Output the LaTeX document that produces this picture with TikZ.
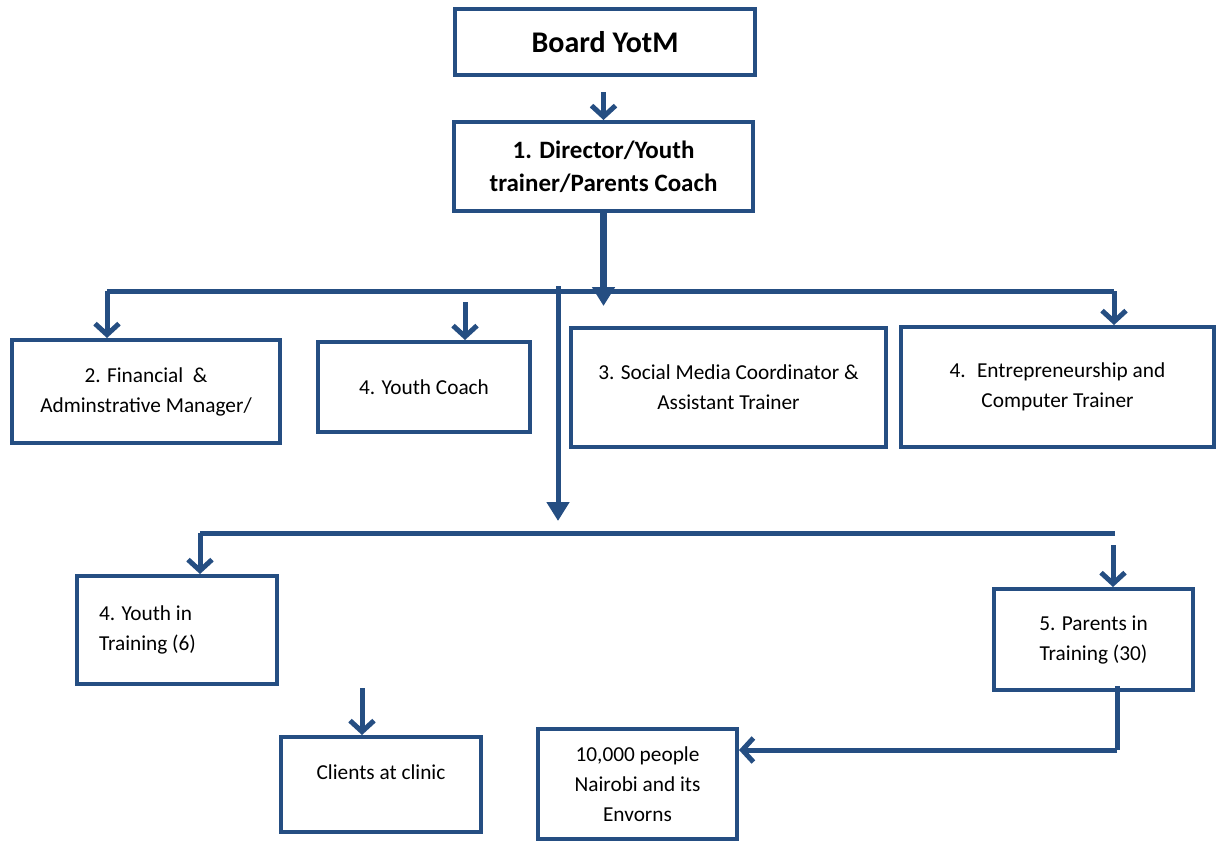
\documentclass[tikz,border=0pt]{standalone}
\usepackage{fontspec}
\setmainfont{Carlito}
\usetikzlibrary{arrows.meta}
\definecolor{ybox}{RGB}{37,78,130}
\tikzset{
  orgbox/.style={draw=ybox, line width=4pt, rectangle, inner sep=0pt, align=center,
    font=\fontsize{21.3}{30}\selectfont},
  conn/.style={draw=ybox, line width=5pt},
  barb/.style={conn, -{Straight Barb[length=11pt,width=24pt]}},
  tri/.style={conn, -{Triangle[length=19pt,width=22pt]}}
}
\begin{document}
\begin{tikzpicture}[x=1pt, y=-1pt]
\useasboundingbox (0,0) rectangle (1217,841);
\node[orgbox, minimum width=300, minimum height=66, font=\fontsize{30}{33}\selectfont\bfseries] (board) at (605,42) {Board YotM};
\node[orgbox, minimum width=299, minimum height=89, font=\fontsize{25}{33}\selectfont\bfseries] (director) at (603.5,166.5) {1. Director/Youth\\trainer/Parents Coach};
\node[orgbox, minimum width=268, minimum height=103] (fin) at (146,391.5) {2. Financial \ \&\\Adminstrative Manager/};
\node[orgbox, minimum width=212, minimum height=90] (ycoach) at (424,387) {4. Youth Coach};
\node[orgbox, minimum width=315, minimum height=119] (social) at (728.5,387.5) {3. Social Media Coordinator \&\\Assistant Trainer};
\node[orgbox, minimum width=313, minimum height=120] (entre) at (1057.5,387) {4. \ Entrepreneurship and\\Computer Trainer};
\node[orgbox, minimum width=200, minimum height=108, align=flush left, text width=156] (ytrain) at (177,630) {4. Youth in\\Training (6)};
\node[orgbox, minimum width=199, minimum height=101] (parents) at (1093.5,639.5) {5. Parents in\\Training (30)};
\node[orgbox, minimum width=200, minimum height=95, align=none, text height=14, text depth=24] (clients) at (381,784.5) {Clients at clinic};
\node[orgbox, minimum width=199, minimum height=110] (people) at (637.5,784) {10,000 people\\Nairobi and its\\Envorns};
\coordinate (l1) at (107,291);
\coordinate (r1) at (1114,291);
\coordinate (yc) at (465,302);
\coordinate (v1) at (558,286);
\coordinate (v2) at (558,521);
\coordinate (l2) at (200,533);
\coordinate (r2) at (1115,533);
\coordinate (pc) at (1113,545);
\coordinate (cc) at (362,688);
\coordinate (p1) at (1117,686);
\coordinate (p2) at (1117,750);
\draw[barb] ([yshift=-15]board.south -| director.north) -- (director.north);
\draw[tri, line width=6.5pt] (director.south) -- ++(0,93);
\draw[conn] (l1) -- (r1);
\draw[barb] (l1) -- (l1 |- fin.north);
\draw[barb] (yc) -- (yc |- ycoach.north);
\draw[barb] (r1) -- (r1 |- entre.north);
\draw[tri] (v1) -- (v2);
\draw[conn] (l2) -- (r2);
\draw[barb] (l2) -- (l2 |- ytrain.north);
\draw[barb] (pc) -- (pc |- parents.north);
\draw[barb] (cc) -- (cc |- clients.north);
\draw[conn] (p1) -- (p2);
\draw[barb] (p2) -- (p2 -| people.east);
\end{tikzpicture}
\end{document}
